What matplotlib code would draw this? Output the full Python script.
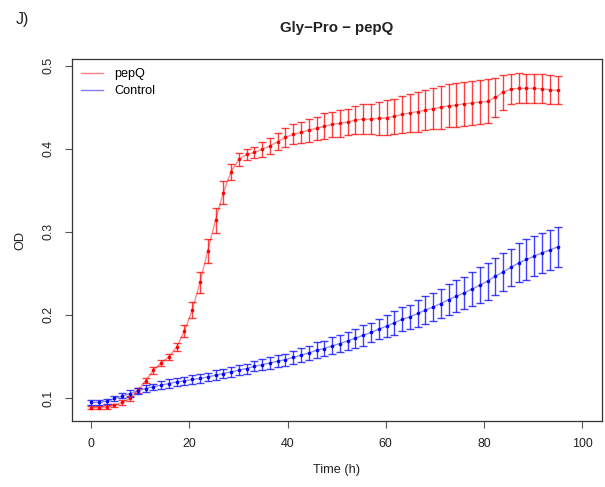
import numpy as np
import matplotlib
matplotlib.use("Agg")
import matplotlib.pyplot as plt
from matplotlib.lines import Line2D

plt.rcParams['font.family'] = ['Liberation Sans', 'DejaVu Sans']

# ---- data ----
n_points = 61
step_h = 95 / 60  # sampling interval (hours)
time_h = np.arange(n_points) * step_h

pepQ_od = [0.0884, 0.0884, 0.0892, 0.0912, 0.0945, 0.0993, 0.1093, 0.1205, 0.1334, 0.1422,
           0.1494, 0.1612, 0.1804, 0.2057, 0.2390, 0.2771, 0.3141, 0.3470, 0.3723, 0.3872,
           0.3933, 0.3957, 0.3993, 0.4036, 0.4084, 0.4137, 0.4177, 0.4198, 0.4225, 0.4246,
           0.4273, 0.4294, 0.4306, 0.4322, 0.4346, 0.4358, 0.4358, 0.4366, 0.4373, 0.4390,
           0.4414, 0.4432, 0.4448, 0.4466, 0.4484, 0.4500, 0.4518, 0.4527, 0.4542, 0.4551,
           0.4563, 0.4571, 0.4619, 0.4680, 0.4719, 0.4728, 0.4728, 0.4728, 0.4723, 0.4711,
           0.4703]
pepQ_err = [0.002, 0.002, 0.002, 0.002, 0.003, 0.003, 0.003, 0.003, 0.004, 0.004,
            0.004, 0.005, 0.007, 0.010, 0.013, 0.0145, 0.015, 0.0137, 0.010, 0.008,
            0.007, 0.007, 0.0088, 0.010, 0.0104, 0.0112, 0.0124, 0.0124, 0.014, 0.014,
            0.0153, 0.0149, 0.016, 0.016, 0.0165, 0.0177, 0.0185, 0.0197, 0.0209, 0.0213,
            0.0221, 0.0233, 0.0241, 0.0245, 0.0249, 0.0257, 0.0261, 0.0265, 0.0265, 0.0265,
            0.0265, 0.0265, 0.0237, 0.0213, 0.0181, 0.0181, 0.0177, 0.0173, 0.0177, 0.0177,
            0.0169]

control_od = [0.0945, 0.0945, 0.0960, 0.0993, 0.1024, 0.1053, 0.1084, 0.1113, 0.1133, 0.1153,
              0.1173, 0.1193, 0.1205, 0.1222, 0.1234, 0.1253, 0.1273, 0.1294, 0.1313, 0.1334,
              0.1354, 0.1380, 0.1400, 0.1422, 0.1442, 0.1462, 0.1487, 0.1514, 0.1542, 0.1575,
              0.1595, 0.1627, 0.1655, 0.1687, 0.1719, 0.1755, 0.1788, 0.1828, 0.1864, 0.1904,
              0.1945, 0.1976, 0.2017, 0.2057, 0.2096, 0.2137, 0.2185, 0.2225, 0.2265, 0.2310,
              0.2358, 0.2406, 0.2466, 0.2518, 0.2571, 0.2627, 0.2667, 0.2707, 0.2747, 0.2780,
              0.2819]
control_err = [0.003, 0.003, 0.003, 0.003, 0.003, 0.004, 0.004, 0.004, 0.004, 0.005,
               0.005, 0.005, 0.005, 0.005, 0.005, 0.005, 0.006, 0.006, 0.006, 0.006,
               0.006, 0.0060, 0.0068, 0.0068, 0.0072, 0.0072, 0.0076, 0.0084, 0.0084, 0.0100,
               0.0096, 0.0104, 0.0108, 0.0108, 0.0112, 0.0124, 0.0120, 0.0124, 0.0133, 0.0141,
               0.0145, 0.0145, 0.0161, 0.0165, 0.0165, 0.0169, 0.0185, 0.0193, 0.0197, 0.0209,
               0.0213, 0.0221, 0.0221, 0.0225, 0.0225, 0.0233, 0.0241, 0.0241, 0.0241, 0.0245,
               0.0245]

series_names = ["pepQ", "Control"]
series_colors = ["#FF0000", "#0000FF"]
x_ticks = [0, 20, 40, 60, 80, 100]
y_ticks = [0.1, 0.2, 0.3, 0.4, 0.5]

# ---- figure ----
W, H = 605, 487
fig = plt.figure(figsize=(W / 100, H / 100), dpi=100)
left, right, top, bottom = 71.5, 601.7, 59.3, 421
ax = fig.add_axes([left / W, 1 - bottom / H, (right - left) / W, (bottom - top) / H])

for od, err, col in [(pepQ_od, pepQ_err, series_colors[0]),
                     (control_od, control_err, series_colors[1])]:
    ax.plot(time_h, od, color=col, lw=1.0, alpha=0.45, zorder=2)
    ax.errorbar(time_h, od, yerr=err, fmt='none', ecolor=col, elinewidth=1.0,
                capsize=2.8, capthick=1.0, alpha=0.75, zorder=3)
    ax.plot(time_h, od, linestyle='none', marker='o', ms=2.6, color=col,
            markeredgewidth=0, zorder=4)

ax.set_xlim(-4, 104)
ax.set_ylim(0.0722, 0.5078)
ax.set_xticks(x_ticks)
ax.set_yticks(y_ticks)
ax.set_xticklabels([str(v) for v in x_ticks])
ax.set_yticklabels([f"{v:.1f}" for v in y_ticks], rotation=90, va='center')

for s in ax.spines.values():
    s.set_color('#333333')
    s.set_linewidth(0.9)
ax.tick_params(axis='both', direction='out', length=5.2, width=0.8, color='#555555',
               labelsize=8.9, labelcolor='#222222')
ax.tick_params(axis='x', pad=7)
ax.tick_params(axis='y', pad=7)

ax.set_xlabel("Time (h)", fontsize=9.2, color='#222222')
ax.xaxis.set_label_coords(0.5, (bottom - 470) / (bottom - top))
ax.xaxis.label.set_va('center')
ax.set_ylabel("OD", fontsize=9.2, color='#222222')
ax.yaxis.set_label_coords((20 - left) / (right - left), 0.5)
ax.yaxis.label.set_va('center')

fig.text((left + right) / 2 / W, 1 - 28 / H, "Gly\u2212Pro \u2212 pepQ", ha='center',
         va='center', fontsize=10.8, fontweight='bold', color='#222222')
fig.text(22 / W, 1 - 19.5 / H, "J)", ha='center', va='center', fontsize=11.5, color='#222222')

handles = [Line2D([0], [0], color=c, lw=1.0, alpha=0.5) for c in series_colors]
ax.legend(handles, series_names, loc='upper left', frameon=False, fontsize=9.1,
          handlelength=1.75, handletextpad=0.9, labelspacing=0.4,
          bbox_to_anchor=((81 - left) / (right - left), 1 - (68 - top) / (bottom - top)),
          borderaxespad=0, borderpad=0)

fig.savefig("out.png", dpi=100)
